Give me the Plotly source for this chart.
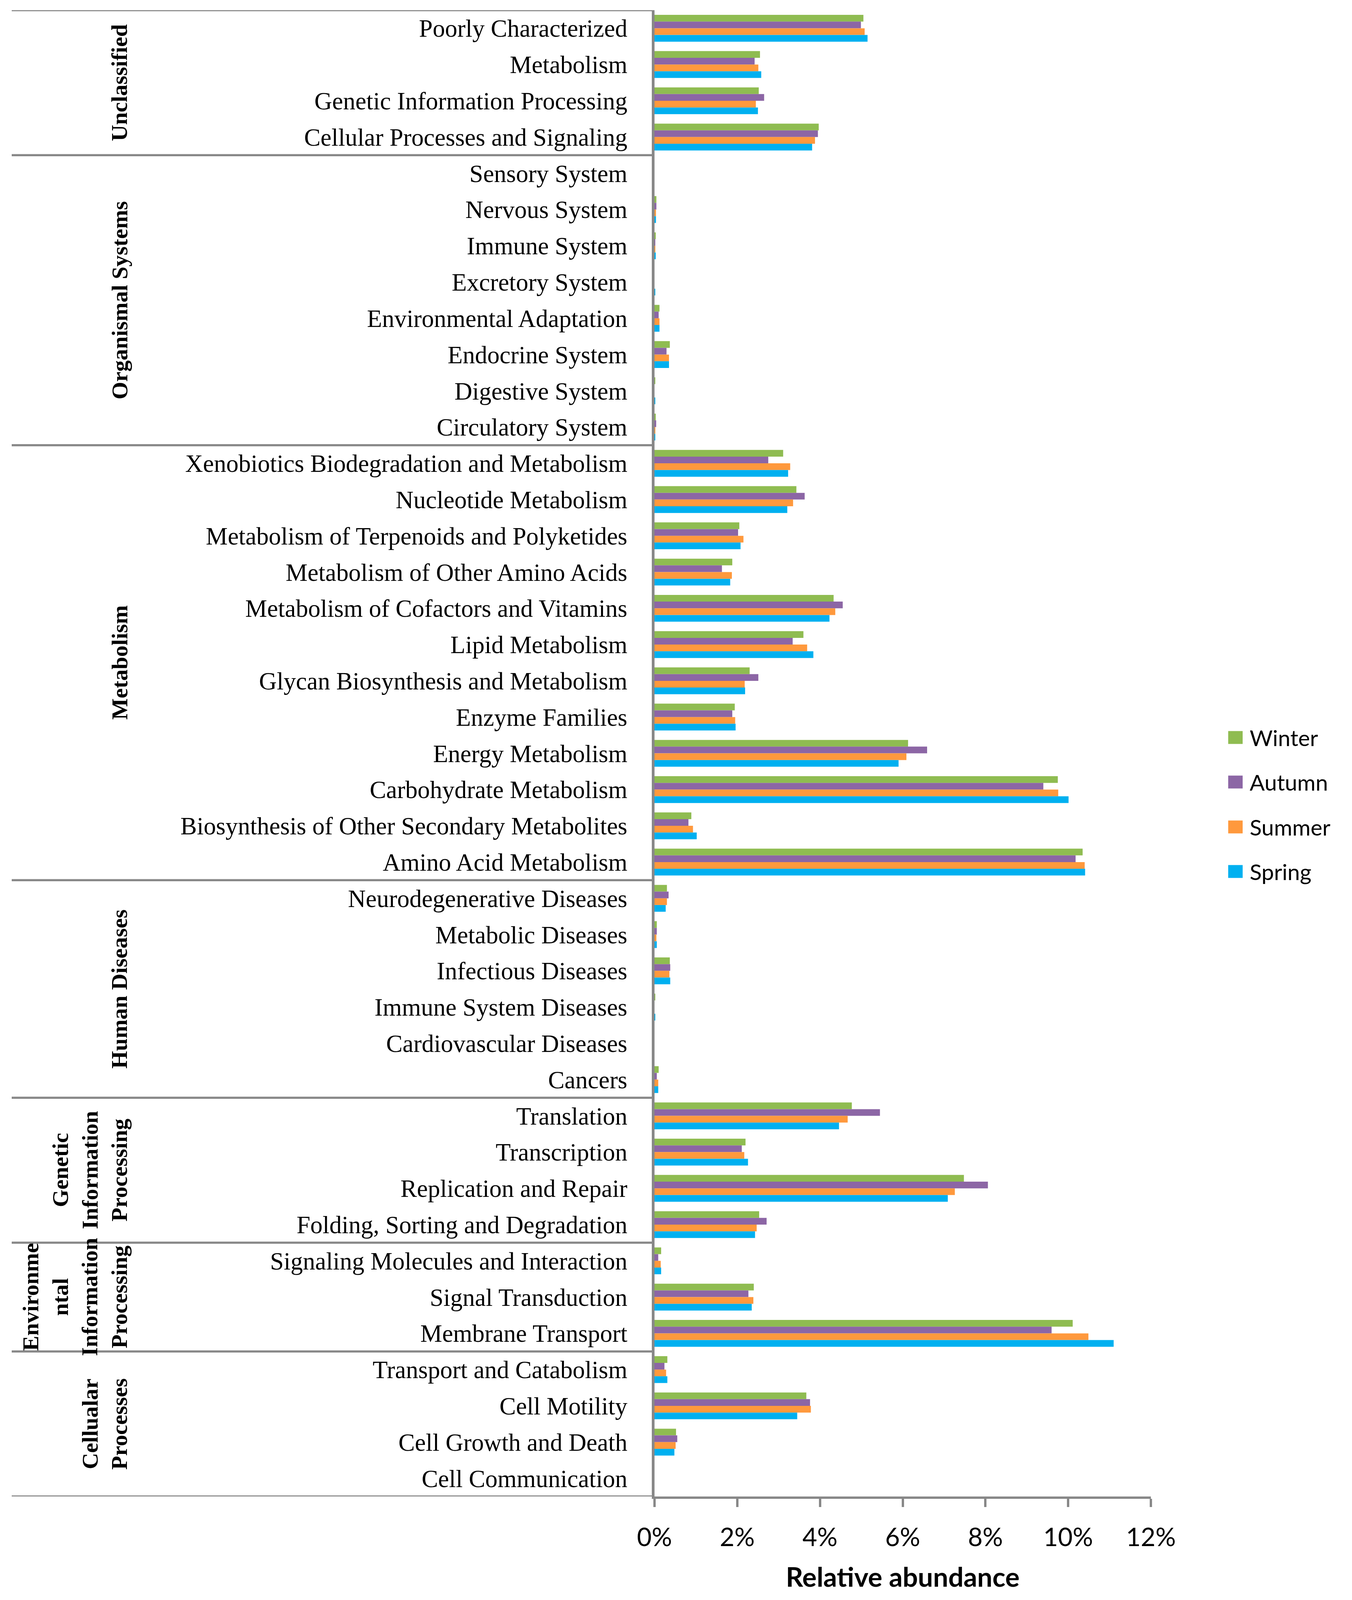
import plotly.graph_objects as go

# ---------------- data (top-to-bottom order as in the figure) ----------------
categories = [
    "Poorly Characterized", "Metabolism", "Genetic Information Processing",
    "Cellular Processes and Signaling",
    "Sensory System", "Nervous System", "Immune System", "Excretory System",
    "Environmental Adaptation", "Endocrine System", "Digestive System",
    "Circulatory System",
    "Xenobiotics Biodegradation and Metabolism", "Nucleotide Metabolism",
    "Metabolism of Terpenoids and Polyketides", "Metabolism of Other Amino Acids",
    "Metabolism of Cofactors and Vitamins", "Lipid Metabolism",
    "Glycan Biosynthesis and Metabolism", "Enzyme Families", "Energy Metabolism",
    "Carbohydrate Metabolism", "Biosynthesis of Other Secondary Metabolites",
    "Amino Acid Metabolism",
    "Neurodegenerative Diseases", "Metabolic Diseases", "Infectious Diseases",
    "Immune System Diseases", "Cardiovascular Diseases", "Cancers",
    "Translation", "Transcription", "Replication and Repair",
    "Folding, Sorting and Degradation",
    "Signaling Molecules and Interaction", "Signal Transduction",
    "Membrane Transport",
    "Transport and Catabolism", "Cell Motility", "Cell Growth and Death",
    "Cell Communication",
]

group_names = [
    "Unclassified", "Organismal Systems", "Metabolism", "Human Diseases",
    "Genetic<br>Information<br>Processing",
    "Environme<br>ntal<br>Information<br>Processing",
    "Cellualar<br>Processes",
]
group_sizes = [4, 8, 12, 6, 4, 3, 4]

seasons = ["Winter", "Autumn", "Summer", "Spring"]

winter = [5.05, 2.55, 2.52, 3.97,
          0.0, 0.045, 0.03, 0.0, 0.12, 0.37, 0.01, 0.03,
          3.11, 3.43, 2.05, 1.88, 4.33, 3.60, 2.30, 1.94, 6.13, 9.75, 0.89, 10.35,
          0.30, 0.055, 0.37, 0.01, 0.0, 0.10,
          4.77, 2.20, 7.48, 2.53,
          0.16, 2.40, 10.11,
          0.31, 3.67, 0.52, 0.0]
autumn = [4.99, 2.42, 2.65, 3.95,
          0.0, 0.045, 0.01, 0.0, 0.10, 0.29, 0.0, 0.04,
          2.75, 3.63, 2.02, 1.63, 4.55, 3.34, 2.51, 1.88, 6.59, 9.40, 0.82, 10.18,
          0.34, 0.055, 0.38, 0.0, 0.0, 0.055,
          5.45, 2.11, 8.06, 2.71,
          0.09, 2.27, 9.60,
          0.24, 3.76, 0.55, 0.0]
summer = [5.08, 2.51, 2.45, 3.88,
          0.0, 0.035, 0.02, 0.0, 0.12, 0.35, 0.0, 0.02,
          3.28, 3.35, 2.15, 1.87, 4.37, 3.69, 2.18, 1.95, 6.09, 9.76, 0.93, 10.40,
          0.30, 0.045, 0.36, 0.0, 0.0, 0.09,
          4.67, 2.17, 7.26, 2.47,
          0.15, 2.39, 10.49,
          0.28, 3.78, 0.51, 0.0]
spring = [5.15, 2.58, 2.50, 3.81,
          0.0, 0.035, 0.03, 0.01, 0.12, 0.35, 0.01, 0.01,
          3.23, 3.21, 2.08, 1.83, 4.23, 3.84, 2.19, 1.96, 5.90, 10.01, 1.02, 10.41,
          0.27, 0.055, 0.38, 0.01, 0.0, 0.09,
          4.46, 2.26, 7.09, 2.43,
          0.16, 2.35, 11.10,
          0.31, 3.45, 0.48, 0.0]

x_ticks = [0, 2, 4, 6, 8, 10, 12]
x_ticklabels = ["0%", "2%", "4%", "6%", "8%", "10%", "12%"]
x_title = "Relative abundance"

# ---------------- styling ----------------
colors = {"Winter": "#8FBC51", "Autumn": "#8C66A5",
          "Summer": "#FF993D", "Spring": "#00B0F0"}
series = {"Winter": winter, "Autumn": autumn, "Summer": summer, "Spring": spring}
GRAY = "#888888"

# The browser viewport is 3462x4096 and the page body has an 8px margin,
# so the figure is sized to fill exactly the visible area.
W, H = 3454, 4088
PL, PR, PT, PB = 1668, 2939, 18, 3823   # plot area in figure pixels
pw, ph = PR - PL, PB - PT


def px2x(px):
    return (px - PL) / pw


def px2y(py):
    return (PB - py) / ph


fig = go.Figure()
for s in seasons:
    fig.add_trace(go.Bar(
        y=categories, x=series[s], name=s, orientation="h",
        marker=dict(color=colors[s], line=dict(width=0)),
        showlegend=False,
    ))

shapes = []
annotations = []

n = len(categories)
boundaries = [-0.5]
acc = -0.5
for g in group_sizes:
    acc += g
    boundaries.append(acc)
for b in boundaries:
    shapes.append(dict(type="line", xref="paper", yref="y",
                       x0=px2x(22), x1=0, y0=b, y1=b,
                       line=dict(color=GRAY, width=5.5)))

for i, gname in enumerate(group_names):
    ymid = (boundaries[i] + boundaries[i + 1]) / 2
    nlines = gname.count("<br>") + 1
    xc = 298 - (nlines - 1) * 38
    annotations.append(dict(
        text=gname, xref="paper", yref="y", x=px2x(xc), y=ymid,
        textangle=-90, showarrow=False, xanchor="center", yanchor="middle",
        align="center",
        font=dict(family="Liberation Serif", size=58, color="black", weight="bold"),
    ))

# legend keys (large square swatches as in the original)
leg_y = [1880, 1994, 2109, 2223]
for s, yy in zip(seasons, leg_y):
    shapes.append(dict(type="rect", xref="paper", yref="paper",
                       x0=px2x(3137), x1=px2x(3174),
                       y0=px2y(yy + 16.5), y1=px2y(yy - 16.5),
                       fillcolor=colors[s], line=dict(width=0)))
    annotations.append(dict(text=s, xref="paper", yref="paper",
                            x=px2x(3190), y=px2y(yy), xanchor="left",
                            yanchor="middle", showarrow=False,
                            font=dict(family="Lato", size=57, color="black")))

fig.update_layout(
    width=W, height=H,
    margin=dict(l=PL, r=W - PR, t=PT, b=H - PB, autoexpand=False),
    paper_bgcolor="white", plot_bgcolor="white",
    barmode="group", bargap=0.26, bargroupgap=0,
    showlegend=False,
    shapes=shapes, annotations=annotations,
    xaxis=dict(
        range=[0, 12], tickmode="array", tickvals=x_ticks, ticktext=x_ticklabels,
        showgrid=False, zeroline=False,
        showline=True, linecolor=GRAY, linewidth=6,
        ticks="outside", ticklen=21, tickwidth=6, tickcolor=GRAY,
        ticklabelstandoff=22,
        tickfont=dict(family="Lato", size=65, color="black"),
        title=dict(text=x_title, standoff=45,
                   font=dict(family="Lato", size=69, color="black", weight="bold")),
    ),
    yaxis=dict(
        categoryorder="array", categoryarray=categories,
        range=[n - 0.5, -0.5],
        showgrid=False, zeroline=False,
        showline=True, linecolor=GRAY, linewidth=7,
        ticks="", ticklabelstandoff=50,
        tickfont=dict(family="Liberation Serif", size=63, color="black"),
    ),
)

fig.write_html("out.html")
